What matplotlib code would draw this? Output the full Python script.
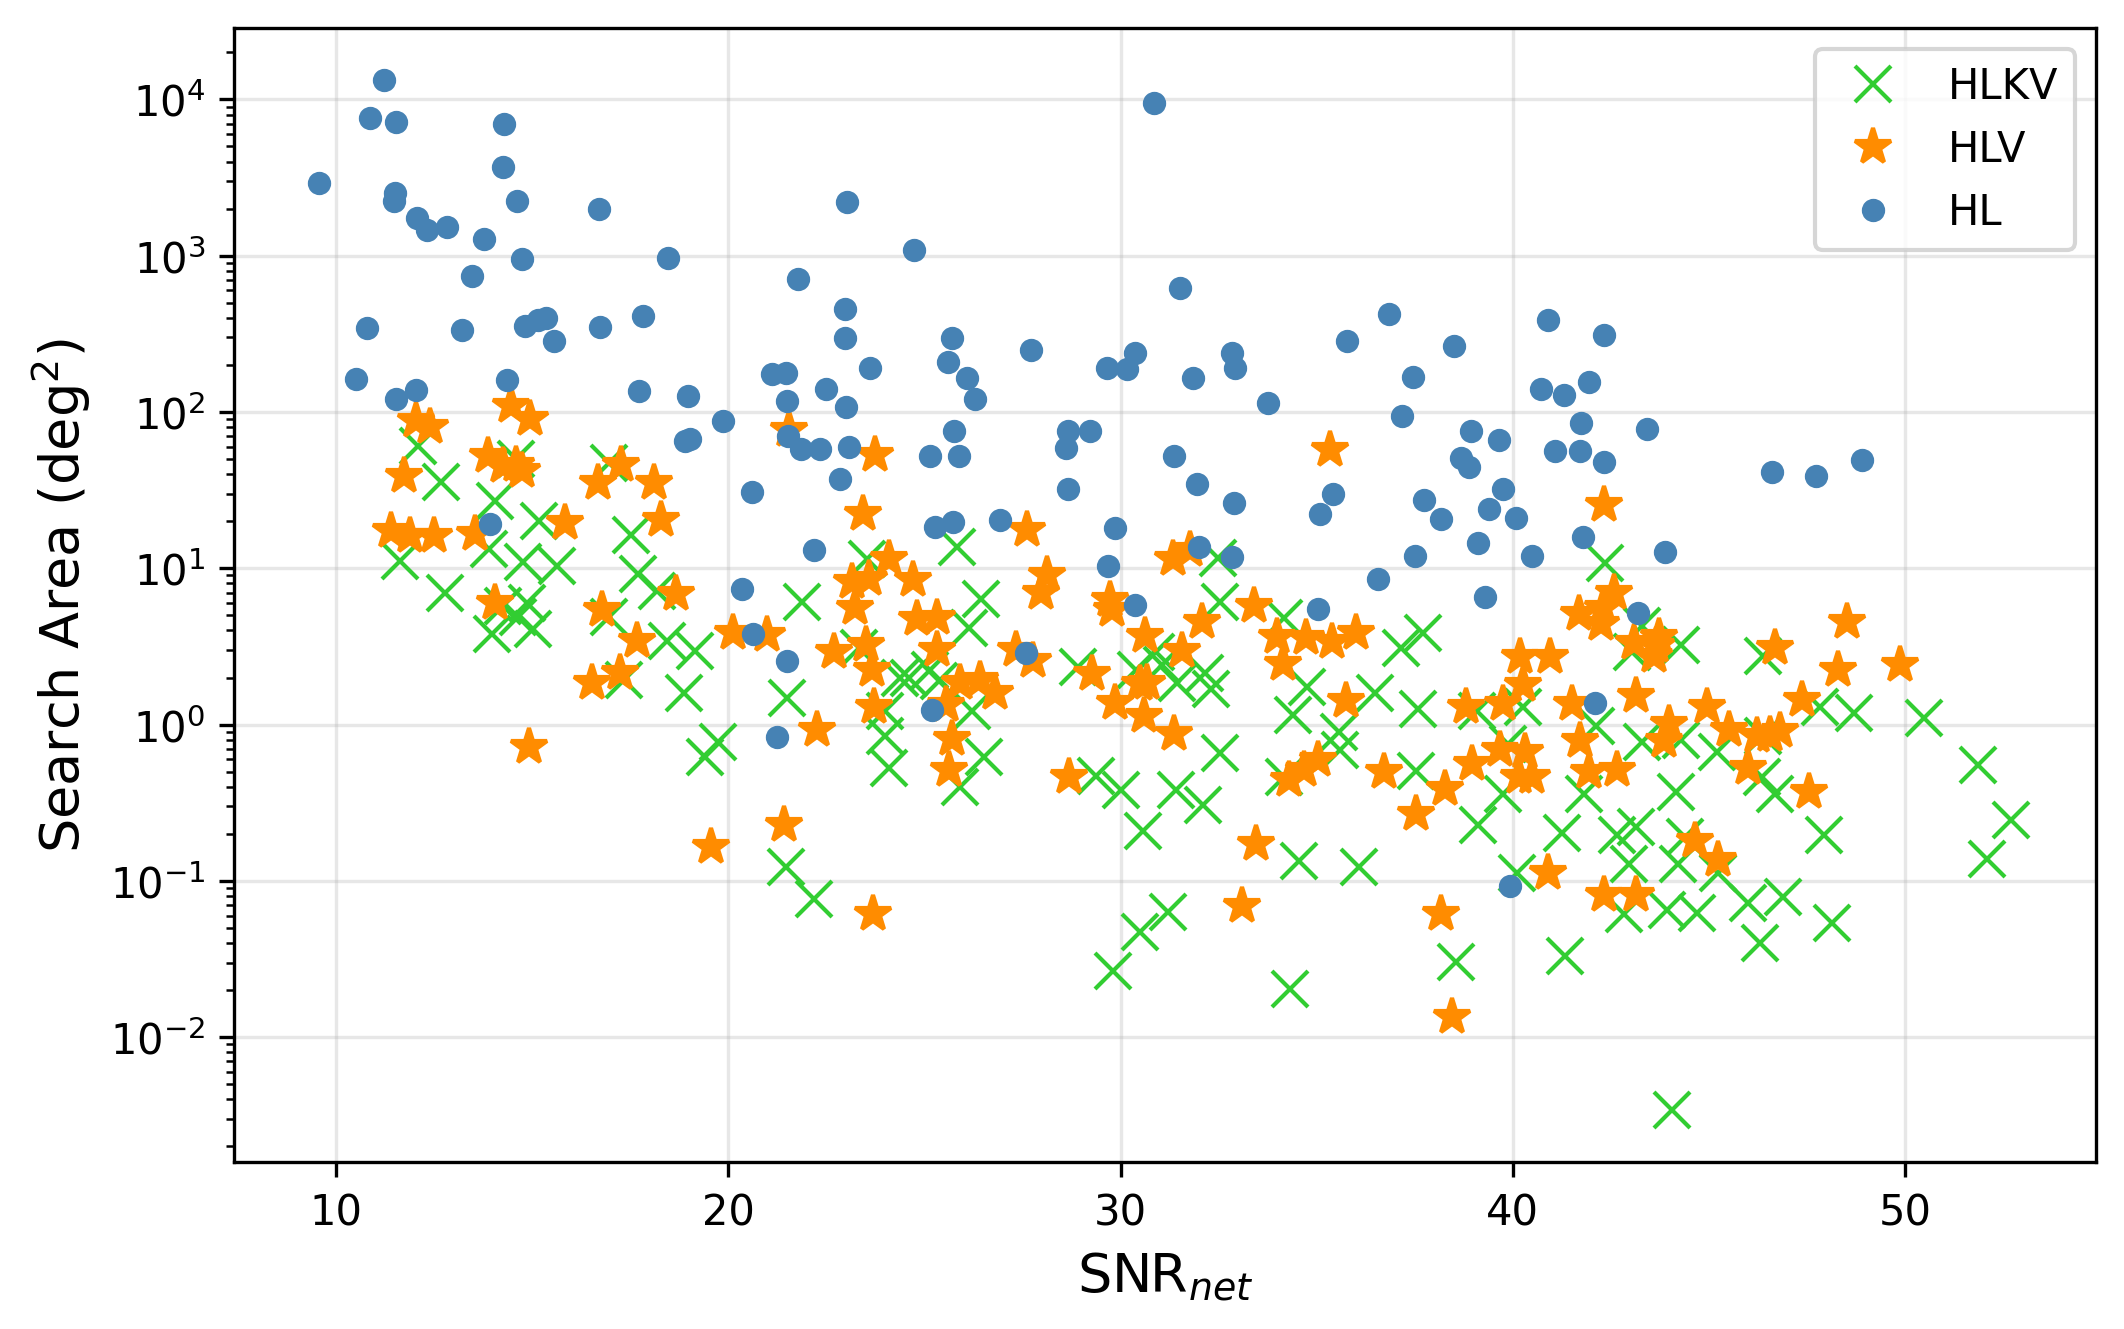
import matplotlib
matplotlib.use("Agg")
import matplotlib.pyplot as plt

# HL network (blue dots)
hl_snr = [9.57, 10.52, 10.79, 10.88, 11.22, 11.51, 11.48, 11.53, 11.53, 12.05,
          12.07, 12.32, 12.83, 13.21, 13.47, 13.78, 13.93, 14.27, 14.29, 14.36,
          14.62, 14.75, 14.82, 15.14, 15.35, 15.57, 16.70, 16.72, 17.72, 17.82,
          18.46, 18.90, 19.02, 18.98, 19.87, 20.36, 20.61, 20.64, 21.11, 21.24,
          21.48, 21.51, 21.51, 21.52, 21.79, 21.86, 22.18, 22.35, 22.50, 22.86,
          22.97, 22.97, 22.99, 23.03, 23.07, 23.61, 24.73, 25.14, 25.20, 25.27,
          25.61, 25.71, 25.73, 25.76, 25.89, 26.09, 26.30, 26.94, 27.60, 27.73,
          28.60, 28.65, 28.65, 29.21, 29.65, 29.68, 29.85, 30.16, 30.36, 30.38,
          30.85, 31.37, 31.52, 31.85, 31.95, 32.00, 32.83, 32.85, 32.90, 32.92,
          33.77, 35.03, 35.08, 35.41, 35.77, 36.56, 36.84, 37.18, 37.46, 37.51,
          37.74, 38.17, 38.51, 38.68, 38.89, 38.94, 39.12, 39.29, 39.40, 39.66,
          39.76, 39.94, 40.09, 40.50, 40.73, 40.91, 41.07, 41.30, 41.71, 41.73,
          41.78, 41.94, 42.09, 42.32, 42.33, 43.19, 43.42, 43.88, 46.60, 47.72,
          48.90]
hl_area = [2940, 162, 344, 7550, 13400, 2510, 2230, 7120, 122, 138,
           1745, 1468, 1528, 334, 741, 1280, 19.1, 3720, 6980, 160,
           2250, 955, 354, 386, 401, 284, 2000, 348, 137, 411,
           973, 65, 67, 127, 88, 7.4, 30.8, 3.8, 174, 0.83,
           177, 2.57, 118, 70, 708, 58, 13, 58, 140, 37,
           456, 297, 108, 2220, 60, 190, 1090, 52, 1.24, 18.4,
           208, 297, 19.8, 76, 52.5, 165, 122, 20.3, 2.88, 248,
           59, 76, 32.3, 76, 191, 10.3, 18.1, 189, 238, 5.8,
           9480, 52, 622, 166, 34.8, 13.7, 11.8, 238, 26.3, 192,
           114, 5.5, 22.3, 30, 284, 8.5, 423, 94, 167, 12,
           27.5, 20.6, 263, 51, 44.7, 76, 14.5, 6.6, 24, 66,
           32.3, 0.0927, 21, 11.9, 140, 388, 56.5, 128, 56.5, 85,
           15.9, 155, 1.38, 48, 310, 5.2, 78, 12.7, 41.4, 39,
           49.4]

# HLV network (orange stars)
hlv_snr = [11.41, 11.73, 11.88, 12.05, 12.39, 12.50, 13.55, 13.88, 14.06, 14.26,
           14.45, 14.60, 14.75, 14.93, 14.95, 15.84, 16.52, 16.67, 16.78, 17.23,
           17.27, 17.68, 18.10, 18.28, 18.68, 19.57, 20.11, 20.98, 21.42, 21.56,
           22.26, 22.69, 23.16, 23.24, 23.44, 23.50, 23.58, 23.67, 23.69, 23.71,
           23.75, 24.10, 24.70, 24.80, 25.31, 25.33, 25.54, 25.71, 25.62, 25.90,
           26.43, 26.80, 27.33, 27.61, 27.78, 27.97, 28.12, 28.69, 29.27, 29.72,
           29.78, 29.87, 30.63, 30.50, 30.68, 30.60, 31.34, 31.77, 31.37, 31.58,
           32.09, 33.10, 33.40, 33.45, 33.98, 34.13, 34.30, 34.68, 34.73, 35.03,
           35.34, 35.40, 35.75, 36.00, 36.71, 37.54, 38.18, 38.27, 38.44, 38.82,
           38.95, 39.68, 39.76, 40.15, 40.19, 40.27, 40.32, 40.49, 40.91, 40.96,
           41.51, 41.68, 41.72, 41.94, 42.24, 42.30, 42.58, 42.33, 42.32, 42.66,
           43.09, 43.13, 43.13, 43.60, 43.64, 43.73, 43.86, 43.98, 44.64, 44.96,
           45.24, 45.50, 45.99, 46.22, 46.56, 46.82, 46.69, 47.37, 47.54, 48.29,
           48.52, 49.86]
hlv_area = [17.3, 39, 16.1, 88, 80, 16.1, 16.5, 52.5, 6.0, 45,
            110, 46, 42, 0.72, 90, 19.5, 1.84, 35, 5.4, 2.15,
            46, 3.45, 35, 20.5, 6.8, 0.164, 3.83, 3.72, 0.227, 77,
            0.93, 2.9, 8.2, 5.6, 22.3, 3.25, 8.5, 2.22, 0.0617, 1.3,
            52.7, 11.4, 8.4, 4.75, 4.8, 3.0, 1.33, 0.81, 0.51, 1.84,
            1.94, 1.6, 3.0, 17.5, 2.55, 7.0, 9.0, 0.46, 2.1, 6.3,
            5.4, 1.38, 3.7, 1.82, 1.85, 1.13, 11.4, 13, 0.87, 2.95,
            4.5, 0.0687, 5.7, 0.173, 3.65, 2.45, 0.44, 0.51, 3.6, 0.59,
            57, 3.4, 1.42, 3.87, 0.5, 0.267, 0.0617, 0.39, 0.0135, 1.3,
            0.556, 0.69, 1.36, 0.46, 2.69, 1.79, 0.67, 0.46, 0.112, 2.69,
            1.36, 5.1, 0.79, 0.5, 4.4, 5.6, 7.0, 25.5, 0.081, 0.51,
            3.34, 1.52, 0.081, 2.75, 3.2, 3.62, 0.79, 1.01, 0.18, 1.29,
            0.136, 0.93, 0.53, 0.84, 0.86, 0.91, 3.11, 1.44, 0.37, 2.25,
            4.5, 2.41]

# HLKV network (green crosses)
hlkv_snr = [11.62, 12.09, 12.69, 12.78, 13.89, 14.05, 14.60, 13.97, 14.27, 14.64,
            14.86, 15.03, 14.78, 15.63, 15.18, 16.97, 17.53, 17.71, 18.18, 16.95,
            18.44, 19.16, 17.33, 18.86, 19.74, 19.40, 21.88, 21.49, 21.48, 22.18,
            23.33, 23.54, 24.39, 24.00, 24.09, 24.00, 24.60, 25.15, 25.37, 25.82,
            26.45, 26.13, 26.22, 26.52, 25.92, 28.91, 29.38, 30.02, 30.57, 30.40,
            30.90, 31.05, 31.45, 32.15, 32.30, 31.42, 32.10, 32.53, 32.49, 32.53,
            34.16, 34.41, 34.16, 34.54, 34.33, 30.49, 31.21, 29.80, 34.75, 35.58,
            35.60, 36.48, 37.16, 37.71, 37.59, 36.09, 37.53, 39.12, 39.08, 39.89,
            39.76, 40.10, 40.27, 38.54, 41.34, 41.25, 41.81, 42.11, 43.30, 44.16,
            42.66, 43.13, 42.96, 42.83, 43.94, 44.70, 44.20, 44.28, 43.30, 43.05,
            42.36, 46.39, 47.84, 48.69, 50.49, 51.85, 52.71, 52.08, 44.30, 45.20,
            46.39, 46.35, 46.69, 47.93, 44.40, 45.24, 46.00, 46.90, 46.31, 48.14,
            44.05]
hlkv_area = [11.1, 61, 35.4, 7.0, 13.2, 27, 50, 3.8, 5.7, 4.85,
             6.0, 4.06, 10.9, 10.4, 20, 47, 16.4, 9.2, 7.2, 4.9,
             3.42, 2.95, 1.94, 1.6, 0.77, 0.62, 6.1, 1.48, 0.122, 0.077,
             3.08, 11.4, 2.0, 0.84, 0.53, 1.22, 2.0, 2.22, 1.89, 13.7,
             6.4, 4.15, 1.22, 0.62, 0.40, 2.34, 0.47, 0.38, 0.21, 2.25,
             2.9, 2.4, 1.85, 2.15, 1.7, 0.38, 0.306, 0.655, 11.7, 6.07,
             4.8, 1.16, 0.46, 0.135, 0.0203, 0.047, 0.063, 0.0266, 1.75, 0.9,
             0.69, 1.6, 3.08, 3.83, 1.26, 0.122, 0.507, 0.227, 1.22, 0.75,
             0.36, 0.112, 1.29, 0.0301, 0.033, 0.201, 0.36, 0.98, 0.77, 0.37,
             0.198, 0.22, 0.128, 0.0617, 0.065, 0.062, 0.128, 3.25, 4.26, 2.9,
             10.8, 2.76, 1.29, 1.19, 1.1, 0.55, 0.246, 0.139, 0.8, 0.67,
             0.84, 0.46, 0.36, 0.198, 0.19, 0.112, 0.0726, 0.0787, 0.04, 0.054,
             0.0034]


def main():
    fig, ax = plt.subplots(figsize=(7.08, 4.4333), dpi=300)
    fig.subplots_adjust(left=0.1104, right=0.9868, top=0.9782, bottom=0.1256)

    ax.plot(hlkv_snr, hlkv_area, 'x', color='limegreen', ms=8.5, label='HLKV')
    ax.plot(hlv_snr, hlv_area, '*', color='darkorange', ms=9, label='HLV')
    ax.plot(hl_snr, hl_area, 'o', color='steelblue', ms=4.6, label='HL')

    ax.set_yscale('log')
    ax.grid(True, alpha=0.3)
    ax.set_xlabel('SNR$_{net}$', fontsize=13)
    ax.set_ylabel('Search Area (deg$^2$)', fontsize=13)
    ax.legend(loc='upper right')

    fig.savefig('out.png', dpi=300)


if __name__ == "__main__":
    main()
